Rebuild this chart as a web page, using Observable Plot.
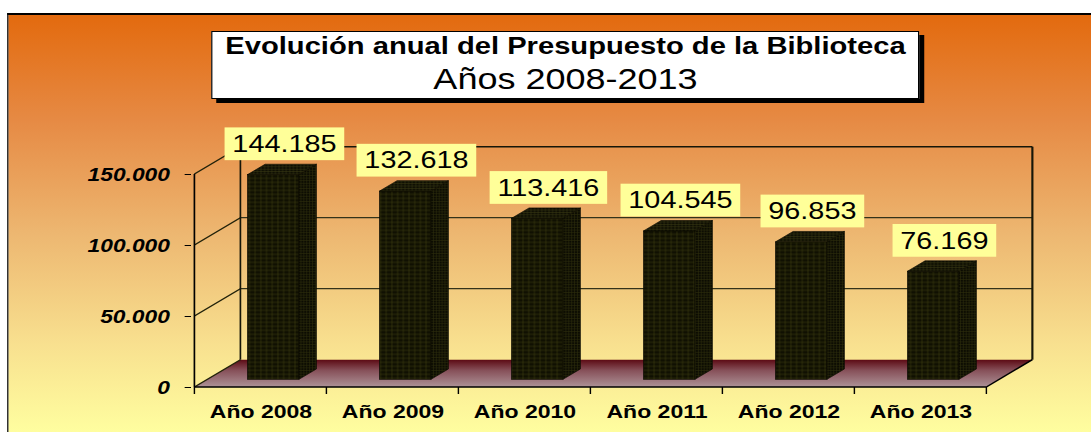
<!DOCTYPE html>
<html>
<head>
<meta charset="utf-8">
<script src="https://cdn.jsdelivr.net/npm/d3@7"></script>
<script src="https://cdn.jsdelivr.net/npm/@observablehq/plot@0.6"></script>
<style>
  html, body { margin: 0; padding: 0; background: #fff; overflow: hidden; width: 1091px; height: 432px; }
  #wrap { position: absolute; left: 0; top: 0; width: 909.1667px; height: 432px; overflow: visible;
          transform: scaleX(1.2); transform-origin: 0 0; font-family: "Liberation Sans", Arial, sans-serif; }
  #bg { position: absolute; left: 5.5px; top: 13px; width: 960px; height: 440px; box-sizing: border-box;
        border-left: 1.5px solid #000; border-top: 2px solid #000;
        background: linear-gradient(to bottom, #E36A0E 0%, #E68A44 24%, #EDB771 50%, #F8E08F 75%, #FFFFA0 96%); }
  #titlebox { position: absolute; left: 176.4px; top: 31px; width: 589.7px; height: 68px; box-sizing: border-box;
              background: #fff; border: 1px solid #000; box-shadow: 4.2px 4px 0 #000; text-align: center; color: #000; }
  #t1 { font-weight: bold; font-size: 24.3px; line-height: 28px; white-space: nowrap; }
  #t2 { font-weight: normal; font-size: 30px; line-height: 37px; white-space: nowrap; }
  #chart { position: absolute; left: 0; top: 0; }
</style>
</head>
<body>
<div id="wrap">
  <div id="bg"></div>
  <div id="chart"></div>
  <div id="titlebox"><div id="t1"></div><div id="t2"></div></div>
</div>
<script>
// ---- data ----
const categories = ["Año 2008", "Año 2009", "Año 2010", "Año 2011", "Año 2012", "Año 2013"];
const budget = [144185, 132618, 113416, 104545, 96853, 76169];
const yTicks = [0, 50000, 100000, 150000];
const titleText = "Evolución anual del Presupuesto de la Biblioteca";
const subtitleText = "Años 2008-2013";

// ---- layout ----
const S = 1.2, W = 1091 / S, H = 432;
const DX = 46 / S, DY = -27.3;      // depth of the 3D box
const F0 = 0.28, F1 = 0.66;          // bar front/back depth fractions
const BAR_INSET = 33.6;

document.getElementById("t1").textContent = titleText;
document.getElementById("t2").textContent = subtitleText;

const locale = d3.formatLocale({decimal: ",", thousands: ".", grouping: [3], currency: ["", " €"]});
const fmt = locale.format(",d");
const data = categories.map((c, i) => ({year: c, value: budget[i]}));

const plot = Plot.plot({
  width: W, height: H,
  marginLeft: 191 / S, marginRight: W - 990 / S, marginTop: 174, marginBottom: 45,
  style: {background: "transparent", overflow: "visible", color: "#000", fontFamily: "Liberation Sans, Arial, sans-serif"},
  x: {domain: categories, padding: 0, label: null, tickSize: 0, tickPadding: 17},
  y: {domain: [0, 150000], ticks: yTicks, tickFormat: fmt, label: null, tickSize: 5.3, tickPadding: 12.8},
  marks: [
    Plot.barY(data, {x: "year", y: "value", insetLeft: BAR_INSET, insetRight: BAR_INSET,
      dx: F0 * DX, dy: F0 * DY, fill: "url(#faceFront)", stroke: "#0a0a00", strokeWidth: 0.6}),
    Plot.text(data, {x: "year", y: "value", text: d => fmt(d.value), dx: 19.5, dy: -38.5,
      fontSize: 24, fill: "#000"})
  ]
});
document.getElementById("chart").appendChild(plot);

// ---- 3D decoration using Plot's scales ----
const svg = d3.select(plot);
const xs = plot.scale("x"), ys = plot.scale("y");
const bw = xs.bandwidth;
const x0 = xs.apply(categories[0]);
const x1 = xs.apply(categories[categories.length - 1]) + bw;
const yb = ys.apply(0), yt = ys.apply(150000);

const defs = svg.insert("defs", ":first-child");
function gridPattern(id, w, h, base, line, lw) {
  const p = defs.append("pattern").attr("id", id).attr("patternUnits", "userSpaceOnUse")
    .attr("width", w).attr("height", h);
  p.append("rect").attr("width", w).attr("height", h).attr("fill", base);
  p.append("path").attr("d", `M0,${h / 2}H${w}M${w / 2},0V${h}`)
    .attr("stroke", line).attr("stroke-width", lw).attr("fill", "none");
}
gridPattern("faceFront", 4.75, 4, "#101002", "#404012", 0.5);
gridPattern("faceSide", 2.4, 2.6, "#0c0c02", "#2e2e0c", 0.5);
gridPattern("faceTop", 3, 2.4, "#0f0f03", "#383812", 0.5);

const fg = defs.append("linearGradient").attr("id", "floorGrad")
  .attr("x1", 0).attr("y1", 0).attr("x2", 0).attr("y2", 1);
fg.append("stop").attr("offset", 0).attr("stop-color", "#5c0a14");
fg.append("stop").attr("offset", 0.4).attr("stop-color", "#87515a");
fg.append("stop").attr("offset", 1).attr("stop-color", "#ad9297");

const walls = svg.insert("g", "g").attr("aria-label", "3d walls");
walls.append("path")
  .attr("d", `M${x0},${yb}L${x1},${yb}L${x1 + DX},${yb + DY}L${x0 + DX},${yb + DY}Z`)
  .attr("fill", "url(#floorGrad)");
function seg(xa, ya, xb, yb2, stroke, w) {
  walls.append("line").attr("x1", xa).attr("y1", ya).attr("x2", xb).attr("y2", yb2)
    .attr("stroke", stroke).attr("stroke-width", w);
}
for (const t of yTicks) {
  const y = ys.apply(t);
  seg(x0, y, x0 + DX, y + DY, "#22220a", 1.3);
  if (t > 0) seg(x0 + DX, y + DY, x1 + DX, y + DY, t === 150000 ? "#161608" : "#33331a", t === 150000 ? 1.6 : 1.3);
}
seg(x0 + DX, yb + DY, x0 + DX, yt + DY, "#161608", 1.4);
seg(x1 + DX, yb + DY, x1 + DX, yt + DY, "#161608", 1.8);
seg(x0, yb, x0, yt, "#000", 1.4);
seg(x1, yb, x1 + DX, yb + DY, "#000", 1.4);
seg(x0, yb, x1, yb, "#000", 1.4);
categories.concat([null]).forEach((c, i) => {
  const x = c === null ? x1 : xs.apply(c);
  seg(x, yb, x, yb + 7, "#000", 1.2);
});

const faces = svg.insert("g", 'g[aria-label="text"]').attr("aria-label", "3d bar faces");
const sx = (F1 - F0) * DX, sy = (F1 - F0) * DY;
data.forEach(d => {
  const xl = xs.apply(d.year) + BAR_INSET + F0 * DX;
  const xr = xs.apply(d.year) + bw - BAR_INSET + F0 * DX;
  const ytop = ys.apply(d.value) + F0 * DY, ybot = yb + F0 * DY;
  faces.append("path")
    .attr("d", `M${xr},${ybot}L${xr},${ytop}L${xr + sx},${ytop + sy}L${xr + sx},${ybot + sy}Z`)
    .attr("fill", "url(#faceSide)").attr("stroke", "#0a0a00").attr("stroke-width", 0.6);
  faces.append("path")
    .attr("d", `M${xl},${ytop}L${xr},${ytop}L${xr + sx},${ytop + sy}L${xl + sx},${ytop + sy}Z`)
    .attr("fill", "url(#faceTop)").attr("stroke", "#0a0a00").attr("stroke-width", 0.6);
});

// axis text styling
svg.selectAll('[aria-label^="y-axis"] text')
  .style("font-size", "19px").style("font-weight", "bold").style("font-style", "italic")
  .style("font-family", "Liberation Sans, Arial, sans-serif").attr("fill", "#000");
svg.selectAll('[aria-label^="x-axis"] text')
  .style("font-size", "19.2px").style("font-weight", "bold")
  .style("font-family", "Liberation Sans, Arial, sans-serif").attr("fill", "#000");
svg.selectAll('g[aria-label="text"] text').style("font-family", "Liberation Sans, Arial, sans-serif");

// label boxes
svg.selectAll('g[aria-label="text"] text').each(function () {
  const b = this.getBBox();
  const r = document.createElementNS("http://www.w3.org/2000/svg", "rect");
  r.setAttribute("x", b.x - 6.5);
  r.setAttribute("y", b.y - 2.8);
  r.setAttribute("width", b.width + 13);
  r.setAttribute("height", b.height + 5.6);
  r.setAttribute("fill", "#FFFF99");
  const tr = this.getAttribute("transform");
  if (tr) r.setAttribute("transform", tr);
  this.parentNode.insertBefore(r, this);
});
</script>
</body>
</html>
